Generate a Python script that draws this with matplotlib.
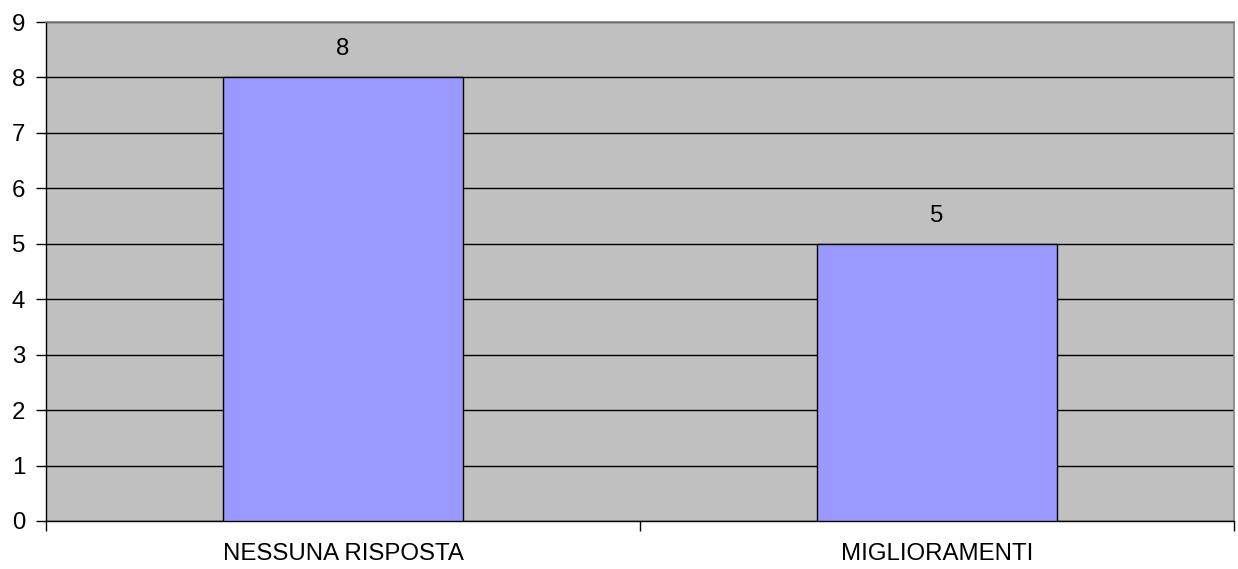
import matplotlib.pyplot as plt
import numpy as np

plt.rcParams["font.family"] = ["Liberation Sans", "DejaVu Sans"]

categories = ["NESSUNA RISPOSTA", "MIGLIORAMENTI"]
values = [8, 5]

BAR_FILL = "#9999FF"
PLOT_BG = "#C0C0C0"
FS = 17.3

fig = plt.figure(figsize=(12.38, 5.69), dpi=100)
ax = fig.add_axes([0.0372, 0.0844, 0.9596, 0.8769])
ax.set_facecolor(PLOT_BG)

x = np.arange(len(categories))
bars = ax.bar(x, values, width=0.404, color=BAR_FILL, edgecolor="black",
              linewidth=1.0, zorder=3)
for rect, v in zip(bars, values):
    ax.text(rect.get_x() + rect.get_width() / 2, v + 0.31, str(v),
            ha="center", va="bottom", fontsize=FS, color="black")

ax.set_xlim(-0.5, len(categories) - 0.5)
ax.set_ylim(0, 9)
ax.set_yticks(range(0, 10))
ax.yaxis.grid(True, color="black", linewidth=1.0, zorder=1)
ax.set_axisbelow(True)

# category labels centred, tick marks on category boundaries
ax.set_xticks(x)
ax.set_xticklabels(categories, fontsize=FS)
ax.tick_params(axis="x", which="major", length=0, pad=16)
ax.set_xticks(np.arange(-0.5, len(categories)), minor=True)
ax.tick_params(axis="x", which="minor", length=7, width=1, color="black")
ax.tick_params(axis="y", length=7, width=1, labelsize=FS, pad=8)

for side in ("top", "right"):
    ax.spines[side].set_color("#808080")
    ax.spines[side].set_linewidth(1.2)
for side in ("left", "bottom"):
    ax.spines[side].set_color("black")
    ax.spines[side].set_linewidth(1.0)

fig.savefig("out.png", dpi=100)
